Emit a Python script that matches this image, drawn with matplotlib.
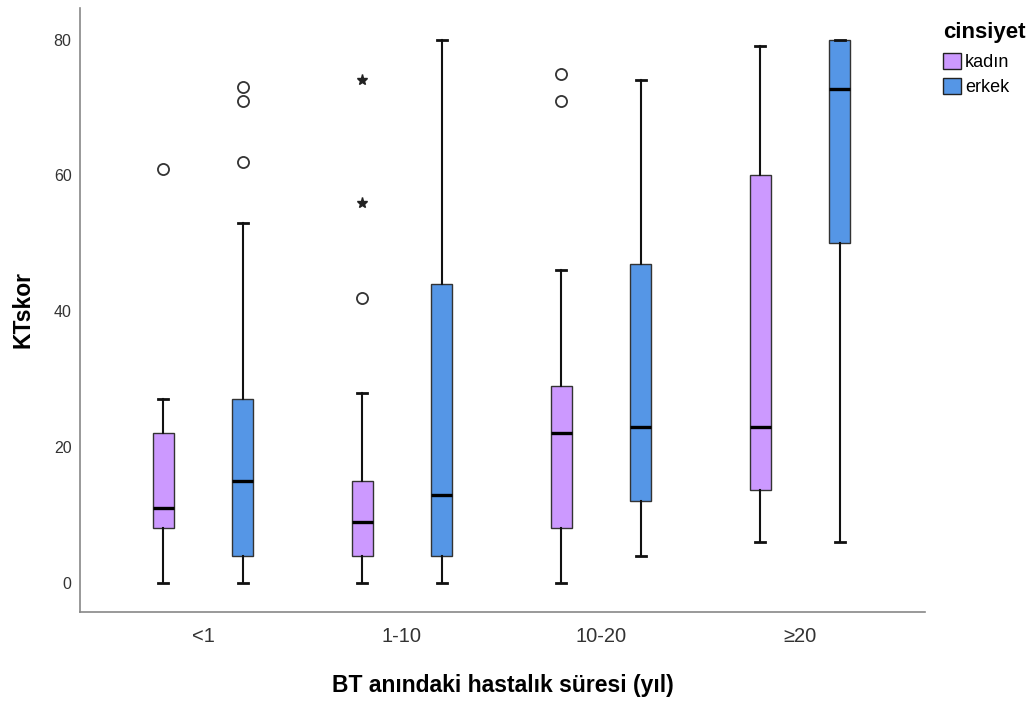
import matplotlib
matplotlib.use('Agg')
import matplotlib.pyplot as plt
from matplotlib.patches import Patch
import numpy as np

plt.rcParams['font.family'] = ['Liberation Sans', 'DejaVu Sans']

# gruplar ve cinsiyet
groups = ['<1', '1-10', '10-20', '≥20']
sexes = ['kadın', 'erkek']
colors = ['#CC99FF', '#5596E6']

# kutu istatistikleri
kadin_whislo = [0, 0, 0, 6]
kadin_q1 = [8, 4, 8, 13.6]
kadin_med = [11, 9, 22, 23]
kadin_q3 = [22, 15, 29, 60]
kadin_whishi = [27, 28, 46, 79]
kadin_out = [[61], [42], [75, 71], []]
kadin_ext = [[], [74, 56], [], []]

erkek_whislo = [0, 0, 4, 6]
erkek_q1 = [4, 4, 12, 50]
erkek_med = [15, 13, 23, 72.8]
erkek_q3 = [27, 44, 47, 80]
erkek_whishi = [53, 80, 74, 80]
erkek_out = [[73, 71, 62], [], [], []]
erkek_ext = [[], [], [], []]

series = [
    (kadin_whislo, kadin_q1, kadin_med, kadin_q3, kadin_whishi, kadin_out, kadin_ext),
    (erkek_whislo, erkek_q1, erkek_med, erkek_q3, erkek_whishi, erkek_out, erkek_ext),
]

fig = plt.figure(figsize=(10.33, 7.01), dpi=100)
ax = fig.add_axes([0.0774, 0.127, 0.818, 0.862])

offsets = [-0.2, 0.2]
width = 0.105
for s in range(2):
    lo, q1, med, q3, hi, out, ext = series[s]
    stats = []
    for g in range(len(groups)):
        stats.append({'whislo': lo[g], 'q1': q1[g], 'med': med[g], 'q3': q3[g],
                      'whishi': hi[g], 'fliers': []})
    pos = np.arange(len(groups)) + offsets[s]
    ax.bxp(stats, positions=pos, widths=width, patch_artist=True, showfliers=False,
           boxprops=dict(facecolor=colors[s], edgecolor='#333333', linewidth=1.0),
           medianprops=dict(color='black', linewidth=2.4),
           whiskerprops=dict(color='#111111', linewidth=1.5),
           capprops=dict(color='#111111', linewidth=2.0),
           capwidths=width * 0.5, manage_ticks=False)
    for g in range(len(groups)):
        if out[g]:
            ax.plot([pos[g]] * len(out[g]), out[g], 'o', markersize=8,
                    markerfacecolor='none', markeredgecolor='#333333', markeredgewidth=1.3)
        if ext[g]:
            ax.plot([pos[g]] * len(ext[g]), ext[g], '*', markersize=8,
                    color='#222222')

ax.set_xlim(-0.618, 3.628)
ax.set_ylim(-4.3, 84.7)
ax.set_xticks(range(len(groups)))
ax.set_xticklabels(groups, fontsize=14.5, color='#333333')
ax.set_yticks([0, 20, 40, 60, 80])
ax.tick_params(axis='y', length=0, labelsize=11.5, labelcolor='#333333', pad=6)
ax.tick_params(axis='x', length=0, pad=11)
for sp in ['top', 'right']:
    ax.spines[sp].set_visible(False)
for sp in ['left', 'bottom']:
    ax.spines[sp].set_color('#888888')
    ax.spines[sp].set_linewidth(1.2)

ax.set_xlabel('BT anındaki hastalık süresi (yıl)', fontsize=16.5, fontweight='bold', labelpad=20)
ax.set_ylabel('KTskor', fontsize=16.5, fontweight='bold', labelpad=14)

handles = [Patch(facecolor=colors[i], edgecolor='#222222', label=sexes[i]) for i in range(2)]
leg = fig.legend(handles=handles, loc='upper left', bbox_to_anchor=(0.913, 0.968),
                 frameon=False, title='cinsiyet', fontsize=13,
                 title_fontproperties={'weight': 'bold', 'size': 16},
                 handlelength=1.0, handleheight=1.0, handletextpad=0.2,
                 labelspacing=0.35, alignment='left', borderaxespad=0, borderpad=0)
leg._legend_box.sep = 7

fig.savefig('out.png', dpi=100)
